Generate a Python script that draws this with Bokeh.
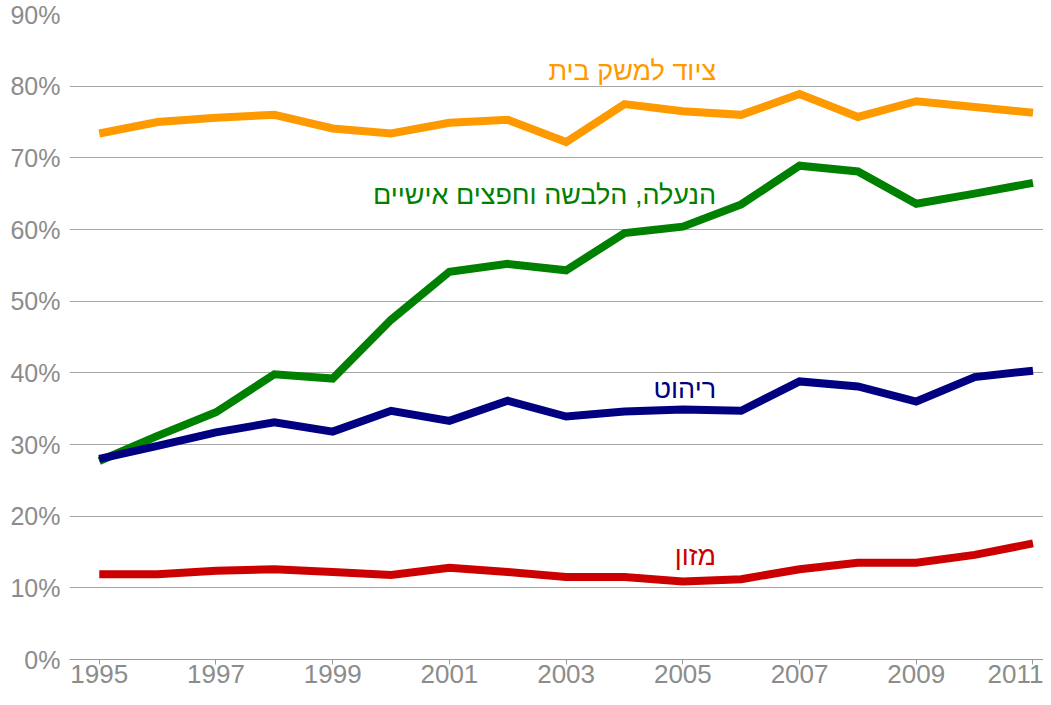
from bokeh.plotting import figure
from bokeh.models import FixedTicker, PrintfTickFormatter, Range1d
from bokeh.core.properties import value
from bokeh.embed import file_html
from bokeh.resources import INLINE

years = list(range(1995, 2012))
household = [73.4, 75.0, 75.6, 76.0, 74.1, 73.4, 74.9, 75.3, 72.2, 77.5, 76.5, 76.0, 78.9, 75.7, 77.9, 77.1, 76.3]
clothing = [27.7, 31.2, 34.5, 39.8, 39.2, 47.4, 54.1, 55.2, 54.3, 59.5, 60.4, 63.5, 68.9, 68.1, 63.6, 65.0, 66.5]
furniture = [28.0, 29.8, 31.7, 33.1, 31.8, 34.7, 33.3, 36.1, 33.9, 34.6, 34.9, 34.7, 38.8, 38.1, 36.0, 39.4, 40.3]
food = [11.9, 11.9, 12.4, 12.6, 12.2, 11.8, 12.8, 12.2, 11.5, 11.5, 10.9, 11.2, 12.6, 13.5, 13.5, 14.6, 16.2]

series_names = ["ציוד למשק בית", "הנעלה, הלבשה וחפצים אישיים", "ריהוט", "מזון"]
series_values = [household, clothing, furniture, food]
series_colors = ["#FF9900", "#008000", "#000080", "#CC0000"]
label_y = [82.1, 64.8, 37.8, 14.5]
label_x = 2005.57

y_ticks = [0, 10, 20, 30, 40, 50, 60, 70, 80, 90]
x_ticks = [1995, 1997, 1999, 2001, 2003, 2005, 2007, 2009, 2011]

FONT = "Liberation Sans"
GRAY = "#8c8c8c"

p = figure(width=1043, height=689, title=None,
           x_range=Range1d(1994.49, 2011.18), y_range=Range1d(0, 90),
           output_backend="svg", toolbar_location=None,
           min_border_left=69, min_border_right=0,
           min_border_top=14, min_border_bottom=30)
p.outline_line_color = None
p.background_fill_color = "white"
p.border_fill_color = "white"

p.xgrid.visible = False
p.ygrid.ticker = FixedTicker(ticks=y_ticks)
p.ygrid.grid_line_color = "#a6a6a6"
p.ygrid.grid_line_width = 1

p.yaxis.ticker = FixedTicker(ticks=y_ticks)
p.yaxis.formatter = PrintfTickFormatter(format="%d%%")
p.yaxis.axis_line_color = None
p.yaxis.major_tick_line_color = None
p.yaxis.minor_tick_line_color = None
p.yaxis.major_tick_out = 0
p.yaxis.major_tick_in = 0
p.yaxis.major_label_standoff = 9
p.yaxis.major_label_text_font = FONT
p.yaxis.major_label_text_font_size = "25px"
p.yaxis.major_label_text_color = GRAY

p.xaxis.ticker = FixedTicker(ticks=x_ticks)
p.xaxis.axis_line_color = "#999999"
p.xaxis.major_tick_line_color = "#999999"
p.xaxis.minor_tick_line_color = None
p.xaxis.major_tick_out = 5
p.xaxis.major_tick_in = 0
p.xaxis.major_label_standoff = 0
p.xaxis.major_label_text_font = FONT
p.xaxis.major_label_text_font_size = "26px"
p.xaxis.major_label_text_color = GRAY

for vals, color in zip(series_values, series_colors):
    p.line(years, vals, line_color=color, line_width=8, line_join="miter")

for name, ly, color in zip(series_names, label_y, series_colors):
    p.text(x=[label_x], y=[ly], text=[name], text_align="right", text_baseline="middle",
           text_font=value(FONT), text_font_size="27px", text_color=color)

open("out.html", "w").write(file_html(p, INLINE))
